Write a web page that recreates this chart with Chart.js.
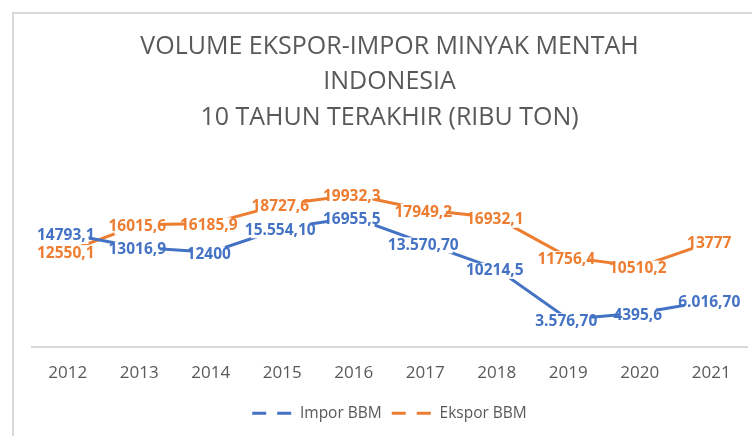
<!DOCTYPE html>
<html lang='id'>
<head>
  <meta charset='UTF-8'>
  <title>Volume Ekspor-Impor Minyak Mentah Indonesia</title>
  <script src="https://cdn.jsdelivr.net/npm/chart.js@4.4.1/dist/chart.umd.min.js"></script>
  <style>
    html, body {
      margin: 0;
      padding: 0;
      background: #fff;
      overflow: hidden;
      width: 752px;
      height: 436px;
    }

    #frame {
      position: absolute;
      left: 12px;
      top: 12px;
      width: 754px;
      height: 440px;
      border-left: 2px solid #d9d9d9;
      border-top: 2px solid #d9d9d9;
    }

    #chart {
      display: block;
    }
  </style>
</head>
<body>
<div id="frame">
  <canvas id="chart" width="754" height="428"></canvas>
</div>
<script>
  const years = ['2012', '2013', '2014', '2015', '2016', '2017', '2018', '2019', '2020', '2021'];
  const imporValues = [14793.1, 13016.9, 12400, 15554.1, 16955.5, 13570.7, 10214.5, 3576.7, 4395.6, 6016.7];
  const eksporValues = [12550.1, 16015.6, 16185.9, 18727.6, 19932.3, 17949.2, 16932.1, 11756.4, 10510.2, 13777];
  // labels as they are printed on the chart (mixed formats in the source)
  const imporLabels = ['14793,1', '13016,9', '12400', '15.554,10', '16955,5', '13.570,70', '10214,5', '3.576,70', '4395,6', '6.016,70'];
  const eksporLabels = ['12550,1', '16015,6', '16185,9', '18727,6', '19932,3', '17949,2', '16932,1', '11756,4', '10510,2', '13777'];

  const BLUE = '#4472C4';
  const ORANGE = '#ED7D31';
  const GREY = '#595959';

  // centered data labels on a white box, box a bit narrower than the text
  const pointLabels = {
    id: 'pointLabels',
    afterDatasetsDraw(chart) {
      const ctx = chart.ctx;
      ctx.save();
      ctx.font = 'bold 15.5px "Open Sans", sans-serif';
      ctx.textAlign = 'center';
      ctx.textBaseline = 'middle';
      chart.data.datasets.forEach((ds, i) => {
        const meta = chart.getDatasetMeta(i);
        meta.data.forEach((pt, j) => {
          const txt = ds.pointText[j];
          const w = ctx.measureText(txt).width;
          const x = pt.x - 2;
          const y = pt.y + 2;
          ctx.fillStyle = '#fff';
          ctx.fillRect(x - w / 2 + 6, y - 8, w - 12, 16);
          ctx.fillStyle = ds.borderColor;
          ctx.fillText(txt, x, y);
        });
      });
      ctx.restore();
    }
  };

  const ctx = document.getElementById('chart').getContext('2d');
  const chart = new Chart(ctx, {
    type: 'line',
    data: {
      labels: years,
      datasets: [{
        label: 'Impor BBM',
        data: imporValues,
        pointText: imporLabels,
        borderColor: BLUE,
        backgroundColor: BLUE,
        borderWidth: 3,
        pointRadius: 0,
        tension: 0
      }, {
        label: 'Ekspor BBM',
        data: eksporValues,
        pointText: eksporLabels,
        borderColor: ORANGE,
        backgroundColor: ORANGE,
        borderWidth: 3,
        pointRadius: 0,
        tension: 0
      }]
    },
    options: {
      responsive: false,
      animation: false,
      layout: {
        padding: {left: 18, right: 21, top: 0, bottom: 11}
      },
      plugins: {
        title: {
          display: true,
          text: ['VOLUME EKSPOR-IMPOR MINYAK MENTAH', 'INDONESIA', '10 TAHUN TERAKHIR (RIBU TON)'],
          color: GREY,
          font: {family: '"Open Sans", sans-serif', size: 25, weight: '400', lineHeight: 1.42},
          padding: {top: 15, bottom: 21}
        },
        legend: {
          position: 'bottom',
          labels: {
            color: GREY,
            font: {family: '"Open Sans", sans-serif', size: 15.5},
            usePointStyle: true,
            pointStyleWidth: 40,
            boxHeight: 15,
            padding: 10,
            generateLabels(chart) {
              const items = Chart.defaults.plugins.legend.labels.generateLabels(chart);
              items.forEach(it => {
                it.pointStyle = 'line';
                it.lineDash = [14, 11];
                it.lineWidth = 3;
              });
              return items;
            }
          }
        },
        tooltip: {enabled: false}
      },
      scales: {
        x: {
          offset: true,
          grid: {display: false, drawTicks: false},
          border: {display: true, color: '#d9d9d9', width: 2},
          ticks: {
            color: GREY,
            font: {family: '"Open Sans", sans-serif', size: 17},
            padding: 16
          },
          afterFit(scale) {
            scale.height = 49;
          }
        },
        y: {
          display: false,
          min: 0,
          max: 25000
        }
      }
    },
    plugins: [pointLabels]
  });
</script>
</body>
</html>
